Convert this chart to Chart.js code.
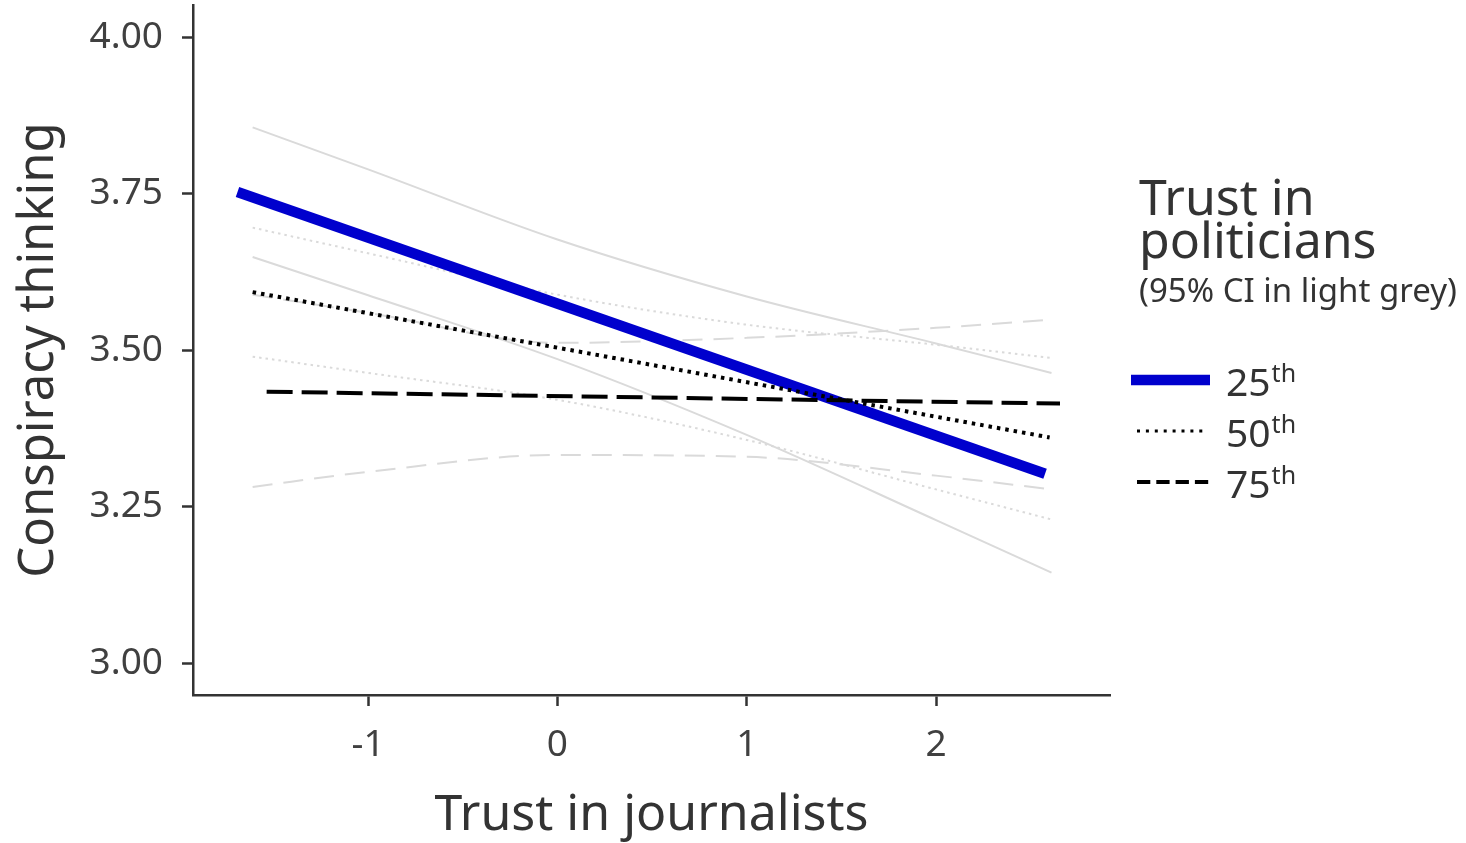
<!DOCTYPE html>
<html>
<head>
<meta charset="utf-8">
<title>Conspiracy thinking by trust in journalists</title>
<script src="https://cdn.jsdelivr.net/npm/chart.js@4.4.1/dist/chart.umd.min.js"></script>
<style>
  html, body { margin: 0; padding: 0; background: #ffffff; overflow: hidden; }
  canvas { display: block; }
</style>
</head>
<body>
<canvas id="chart" width="1466" height="843" style="width:1466px;height:843px"></canvas>
<script>
// ---- data -------------------------------------------------------------
// Predicted conspiracy thinking at three percentiles of trust in politicians
const groupLabels = ['25', '50', '75'];

const fitX25 = [-1.69, 2.576];
const fitY25 = [3.753, 3.303];
const fitX50 = [-1.61, 2.60];
const fitY50 = [3.593, 3.361];
const fitX75 = [-1.536, 2.655];
const fitY75 = [3.434, 3.415];

// 95% confidence bounds
const ciX = [-1.61, -1, 0, 1, 2, 2.61];
const ciUpper25 = [3.856, 3.789, 3.677, 3.586, 3.511, 3.464];
const ciLower25 = [3.649, 3.588, 3.486, 3.365, 3.229, 3.145];
const ciUpper50 = [3.696, 3.655, 3.589, 3.541, 3.509, 3.488];
const ciLower50 = [3.490, 3.464, 3.421, 3.357, 3.278, 3.230];
const ciUpper75 = [3.589, 3.560, 3.512, 3.520, 3.536, 3.549];
const ciLower75 = [3.282, 3.306, 3.333, 3.330, 3.300, 3.278];

const xTicks = [-1, 0, 1, 2];
const xTickLabels = ['-1', '0', '1', '2'];
const yTicks = [3.00, 3.25, 3.50, 3.75, 4.00];
const yTickLabels = ['3.00', '3.25', '3.50', '3.75', '4.00'];

const legendTitle = ['Trust in', 'politicians'];
const legendNote = '(95% CI in light grey)';

// ---- styling ----------------------------------------------------------
const FONT = '"Noto Sans", "Open Sans", sans-serif';
const INK = '#333333';
const CI_GREY = '#dadada';

const toPoints = (xs, ys) => xs.map((x, i) => ({ x: x, y: ys[i] }));

const lineStyles = [
  { color: '#0000cd', width: 10.5, dash: [] },
  { color: '#000000', width: 4, dash: [3.5, 5] },
  { color: '#000000', width: 4, dash: [26, 9] }
];
const ciDash = [[], [2.5, 4], [20, 11]];

const ciSet = (label, xs, ys, k) => ({
  label: label,
  data: toPoints(xs, ys),
  borderColor: CI_GREY,
  borderWidth: 2,
  borderDash: ciDash[k],
  cubicInterpolationMode: 'monotone',
  pointRadius: 0,
  order: 10
});

const fitSet = (label, xs, ys, k, order) => ({
  label: label,
  data: toPoints(xs, ys),
  borderColor: lineStyles[k].color,
  borderWidth: lineStyles[k].width,
  borderDash: lineStyles[k].dash,
  borderCapStyle: 'butt',
  pointRadius: 0,
  order: order
});

// Legend block on the right: title, note, and one key per percentile
const legendKeys = [
  { color: '#0000cd', width: 10.5, dash: [], x0: 1131, x1: 1210 },
  { color: '#000000', width: 3, dash: [3, 5.9], x0: 1137, x1: 1208 },
  { color: '#000000', width: 4, dash: [13.3, 6], x0: 1137, x1: 1210 }
];

const percentileLegend = {
  id: 'percentileLegend',
  afterDraw(chart) {
    const ctx = chart.ctx;
    ctx.save();
    ctx.fillStyle = INK;
    ctx.textAlign = 'left';
    ctx.textBaseline = 'alphabetic';
    ctx.font = '50px ' + FONT;
    ctx.fillText(legendTitle[0], 1139, 215);
    ctx.fillText(legendTitle[1], 1139, 258);
    ctx.font = '33px ' + FONT;
    ctx.fillText(legendNote, 1139, 302);

    legendKeys.forEach((key, i) => {
      const y = 380 + i * 51;
      ctx.beginPath();
      ctx.strokeStyle = key.color;
      ctx.lineWidth = key.width;
      ctx.lineCap = 'butt';
      ctx.setLineDash(key.dash);
      ctx.moveTo(key.x0, y);
      ctx.lineTo(key.x1, y);
      ctx.stroke();
      ctx.setLineDash([]);

      const base = y + 16;
      ctx.font = '39px ' + FONT;
      ctx.fillText(groupLabels[i], 1226, base);
      const w = ctx.measureText(groupLabels[i]).width;
      ctx.font = '25px ' + FONT;
      ctx.fillText('th', 1226 + w + 1, base - 14);
    });
    ctx.restore();
  }
};

new Chart(document.getElementById('chart'), {
  type: 'line',
  data: {
    datasets: [
      ciSet('CI upper 25th', ciX, ciUpper25, 0),
      ciSet('CI lower 25th', ciX, ciLower25, 0),
      ciSet('CI upper 50th', ciX, ciUpper50, 1),
      ciSet('CI lower 50th', ciX, ciLower50, 1),
      ciSet('CI upper 75th', ciX, ciUpper75, 2),
      ciSet('CI lower 75th', ciX, ciLower75, 2),
      fitSet('25th', fitX25, fitY25, 0, 3),
      fitSet('50th', fitX50, fitY50, 1, 2),
      fitSet('75th', fitX75, fitY75, 2, 1)
    ]
  },
  options: {
    responsive: false,
    animation: false,
    devicePixelRatio: 1,
    layout: { padding: { left: 0, top: 5, right: 356, bottom: 0 } },
    plugins: {
      legend: { display: false },
      tooltip: { enabled: false }
    },
    scales: {
      x: {
        type: 'linear',
        min: -1.925,
        max: 2.919,
        afterFit: (s) => { s.height = 148; s.paddingLeft = 0; s.paddingRight = 0; },
        afterBuildTicks: (s) => { s.ticks = xTicks.map(v => ({ value: v })); },
        grid: { drawOnChartArea: false, drawTicks: true, tickLength: 11, tickColor: INK, tickWidth: 2.5 },
        border: { display: true, color: INK, width: 2.5 },
        ticks: {
          color: '#404040',
          font: { family: FONT, size: 37 },
          padding: 17,
          maxRotation: 0,
          callback: (v, i) => xTickLabels[i]
        },
        title: {
          display: true,
          text: 'Trust in journalists',
          color: INK,
          font: { family: FONT, size: 50, lineHeight: 1.1 },
          padding: { top: 0, bottom: 0 }
        }
      },
      y: {
        type: 'linear',
        min: 2.9497,
        max: 4.0515,
        afterFit: (s) => { s.width = 193; s.paddingTop = 0; s.paddingBottom = 0; },
        afterBuildTicks: (s) => { s.ticks = yTicks.map(v => ({ value: v })); },
        grid: { drawOnChartArea: false, drawTicks: true, tickLength: 11, tickColor: INK, tickWidth: 2.5 },
        border: { display: true, color: INK, width: 2.5 },
        ticks: {
          color: '#404040',
          font: { family: FONT, size: 37 },
          padding: 19,
          callback: (v, i) => yTickLabels[i]
        },
        title: {
          display: true,
          text: 'Conspiracy thinking',
          color: INK,
          font: { family: FONT, size: 49, lineHeight: 1.2 },
          padding: { top: 10, bottom: 0 }
        }
      }
    }
  },
  plugins: [percentileLegend]
});
</script>
</body>
</html>
